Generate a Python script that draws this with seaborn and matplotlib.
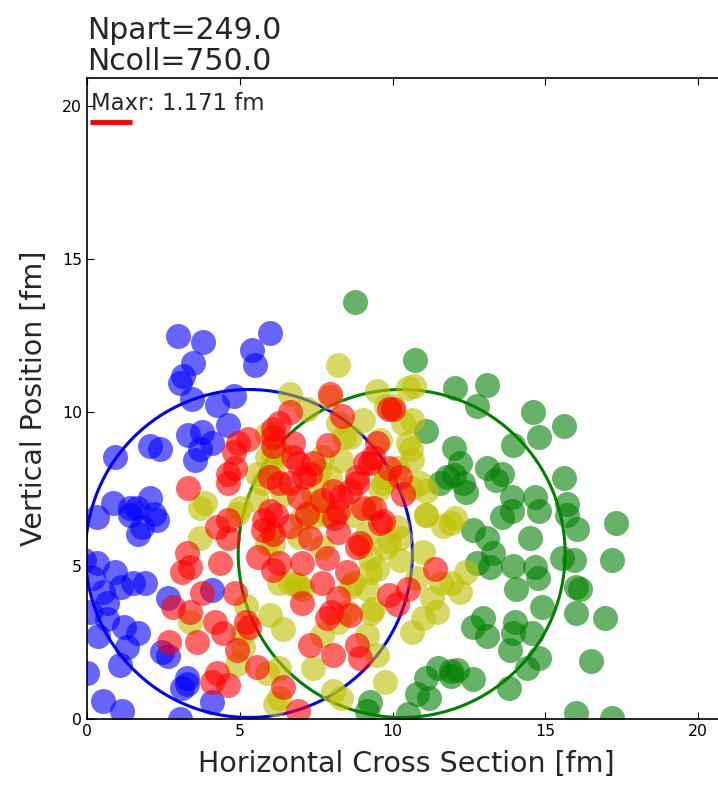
import numpy as np
import pandas as pd
import matplotlib
matplotlib.use("Agg")
import matplotlib.pyplot as plt
import seaborn as sns

# ---------------- data (fm) ----------------
blue_x = [2.98, 3.8, 6.0, 5.4, 5.5, 3.47, 3.15, 3.05, 3.44, 4.25, 4.8, 4.6, 3.3, 3.75, 4.1,
          3.55, 3.7, 2.06, 2.4, 0.92, 0.85, 2.06, 1.64, 0.33, 1.4, 1.8, 2.3, 1.67, 1.4, 0.33,
          0.2, 0.92, 0.52, 0.65, 1.5, 1.9, 2.65, 0.65, 1.2, 0.36, 1.67, 1.08, 1.3, 2.45, 2.65,
          3.27, 3.27, 3.1, 4.1, 4.1, 0.52, 1.15, 3.05, 0.0, -0.1, 0.1, 1.1, 2.2]
blue_y = [12.5, 12.3, 12.6, 12.05, 11.55, 11.6, 11.2, 10.95, 10.45, 10.25, 10.55, 9.6, 9.25, 9.35, 9.0,
          8.45, 8.8, 8.9, 8.8, 8.55, 7.05, 7.2, 6.9, 6.6, 6.65, 6.25, 6.5, 6.05, 6.9, 5.1,
          4.6, 4.8, 4.15, 3.8, 4.45, 4.45, 3.95, 3.25, 3.0, 2.7, 2.8, 1.75, 2.35, 2.2, 2.05,
          1.35, 1.15, 1.0, 4.2, 0.55, 0.6, 0.25, 0.0, 1.5, 5.2, 3.5, 4.3, 6.7]

green_x = [12.05, 13.1, 12.75, 14.6, 15.6, 14.8, 13.95, 12.0, 12.2, 13.1, 13.6, 13.4, 12.0, 12.3,
           12.4, 15.6, 13.9, 14.65, 15.7, 11.1, 10.75, 8.77, 11.55, 11.8,
           13.6, 13.9, 14.8, 15.7, 16.05, 17.3, 12.65, 13.1, 13.3, 14.5, 15.55, 15.95, 17.2,
           12.75, 13.2, 13.95, 14.65, 14.75, 14.05, 16.0, 16.15, 14.9, 16.0, 16.95, 12.95,
           12.65, 13.1, 14.0, 13.95, 14.55, 13.85, 14.8, 16.5, 14.4, 12.1, 11.9, 12.65, 13.8,
           16.0, 17.2, 11.5, 11.1, 11.9, 10.8, 11.2, 9.25, 9.15, 10.5]
green_y = [10.8, 10.9, 10.2, 10.0, 9.55, 9.2, 8.95, 8.85, 8.35, 8.2, 8.0, 7.8, 7.95, 7.7,
           7.4, 7.85, 7.25, 7.25, 7.0, 9.4, 11.7, 13.6, 7.7, 7.9,
           6.6, 6.8, 6.8, 6.65, 6.2, 6.4, 6.15, 5.9, 5.4, 5.9, 5.25, 5.2, 5.2,
           5.1, 4.95, 5.0, 4.95, 4.6, 4.25, 4.3, 4.25, 3.65, 3.45, 3.3, 3.3,
           3.0, 2.7, 3.15, 2.8, 2.8, 2.25, 2.0, 1.9, 1.65, 1.6, 1.4, 1.3, 1.0,
           0.2, 0.03, 1.65, 1.35, 1.55, 0.8, 0.7, 0.55, 0.25, 0.15]

red_x = [3.3, 4.95, 5.27, 4.8, 4.85, 4.6, 4.6, 6.1, 6.3,
         3.27, 3.37, 3.1, 4.35, 4.25, 4.6, 4.6, 3.75, 2.8, 3.37, 4.2, 3.6, 2.7, 4.45, 4.25,
         4.6, 5.3, 5.8, 6.0, 6.1, 5.55, 4.9, 4.85, 5.2,
         7.95, 9.9, 8.35, 6.65, 6.1, 6.75, 6.1, 6.75, 7.9, 7.4, 7.1, 9.1, 9.35, 8.85, 9.9,
         10.25, 8.05, 8.6, 6.65, 6.0, 6.95, 10.35,
         6.2, 6.65, 8.1, 9.7, 8.2, 7.3, 8.85, 7.85, 6.3, 6.1, 7.05, 8.5, 7.7, 7.05, 8.2, 8.6,
         9.9, 10.15, 8.0, 7.85, 7.3, 8.05, 8.95, 8.85, 6.4, 6.9, 11.4, 10.5, 4.1, 5.6, 9.4,
         6.9, 7.3, 6.3, 7.2, 7.7, 5.75, 8.2, 10.0, 9.5, 9.25, 8.85, 8.3, 9.6, 9.05, 8.95]
red_y = [7.55, 9.0, 9.15, 8.7, 8.2, 8.0, 7.7, 9.2, 9.65,
         5.4, 4.95, 4.8, 5.1, 6.25, 5.9, 6.5, 4.1, 3.65, 3.5, 3.15, 2.5, 2.5, 2.8, 1.5,
         1.1, 3.0, 6.5, 6.8, 6.05, 1.7, 2.25, 4.1, 3.15,
         10.6, 10.1, 9.9, 10.0, 9.45, 9.0, 8.9, 8.55, 8.95, 8.35, 7.9, 8.35, 8.55, 7.9, 8.2,
         7.9, 7.45, 7.45, 7.7, 7.9, 7.25, 7.35,
         6.65, 6.3, 6.55, 6.45, 6.1, 5.9, 5.6, 5.25, 5.1, 4.85, 5.1, 4.8, 4.45, 3.8, 3.95, 3.4,
         4.05, 3.75, 3.5, 3.3, 2.4, 2.1, 2.0, 2.4, 1.05, 0.25, 4.9, 4.25, 1.2, 5.3, 6.9,
         8.35, 8.0, 7.7, 6.7, 7.15, 6.15, 6.8, 10.1, 9.0, 8.35, 7.7, 7.25, 6.4, 6.9, 5.75]

yellow_x = [3.85, 5.9, 5.9, 6.1, 3.7, 3.7, 3.37, 4.9, 5.2, 5.1, 5.1, 6.15, 5.9, 5.0,
            8.2, 6.65, 7.95, 9.5, 10.5, 10.7, 9.8, 10.0, 10.35, 10.65, 8.2, 8.6, 7.2, 7.7,
            8.3, 9.6, 10.6, 10.65, 9.8, 9.6, 10.6, 11.1, 7.6, 6.1, 7.4, 6.4,
            6.4, 7.4, 7.7, 8.2, 9.15, 9.5, 9.75, 6.3, 6.3, 8.05, 8.3, 10.65, 11.0, 10.8, 11.3,
            11.45, 11.0, 6.0, 6.95, 8.7, 9.25, 9.35, 9.0, 9.9, 10.25, 7.4, 6.85, 6.3, 11.65,
            11.9, 11.1, 11.6, 12.05, 12.4, 12.2, 11.9,
            7.05, 7.85, 8.7, 9.25, 10.25, 9.8, 9.25, 6.1, 6.65, 7.05, 9.15, 8.6, 9.5, 8.5, 9.3,
            6.3, 5.55, 5.75, 5.55, 7.95, 7.5, 7.95, 6.0, 6.95, 5.9, 7.7, 4.9,
            9.05, 10.5, 10.9, 11.1, 9.7, 10.15, 8.4, 9.15, 10.15]
yellow_y = [7.05, 9.3, 8.55, 8.2, 5.9, 6.9, 3.15, 1.8, 3.7, 2.8, 2.35, 0.5, 1.5, 6.9,
            11.55, 10.6, 10.5, 10.7, 10.8, 10.85, 10.2, 10.2, 9.65, 9.75, 9.65, 9.2, 10.1, 8.55,
            8.45, 9.1, 8.8, 8.45, 7.9, 7.55, 7.55, 7.45, 8.1, 8.55, 7.35, 7.35,
            2.95, 1.65, 2.75, 3.15, 2.75, 2.1, 1.2, 1.65, 0.7, 0.9, 0.7, 2.85, 5.45, 4.6, 3.95,
            3.5, 3.3, 3.4, 4.35, 4.45, 4.8, 3.6, 5.65, 5.8, 5.2, 6.6, 4.4, 4.45, 6.3,
            6.4, 6.65, 4.45, 6.55, 4.8, 4.15, 4.45,
            6.55, 6.65, 6.65, 6.9, 5.9, 5.6, 5.25, 5.7, 4.45, 4.25, 4.25, 4.3, 4.9, 3.5, 3.45,
            8.7, 8.0, 7.7, 7.15, 7.9, 7.05, 6.7, 6.15, 5.95, 5.75, 5.6, 6.7,
            9.75, 9.0, 7.7, 6.65, 7.7, 8.2, 9.2, 6.05, 6.25]

circle_cx = [5.3, 10.3]
circle_cy = [5.4, 5.4]
circle_r = [5.35, 5.35]
circle_colors = ["b", "g"]

title_text = "Npart=249.0\nNcoll=750.0"
maxr_label = "Maxr: 1.171 fm"
maxr_line_x = [0.1, 1.47]
maxr_line_y = [19.48, 19.48]
tick_vals = [0, 5, 10, 15, 20]

# ---------------- plot ----------------
sns.set_style("ticks", {"xtick.direction": "in", "ytick.direction": "in"})
plt.rcParams["font.family"] = ["DejaVu Sans"]

fig = plt.figure(figsize=(7.18, 7.88), dpi=100)
ax = fig.add_axes([87 / 718, 69 / 788, 638.5 / 718, 640.6 / 788])

for cx, cy, r, c in zip(circle_cx, circle_cy, circle_r, circle_colors):
    ax.add_patch(plt.Circle((cx, cy), r, fill=False, color=c, lw=2.2, zorder=1))

groups = [("blue", blue_x, blue_y, "b"), ("green", green_x, green_y, "g"),
          ("yellow", yellow_x, yellow_y, "y"), ("red", red_x, red_y, "r")]
for name, xs, ys, col in groups:
    df = pd.DataFrame({"x": xs, "y": ys})
    sns.scatterplot(data=df, x="x", y="y", color=col, alpha=0.6, s=324,
                    linewidth=0, ax=ax, zorder=2)

ax.plot(maxr_line_x, maxr_line_y, color="r", lw=3.5, zorder=3, solid_capstyle="butt")
ax.text(0.12, 19.87, maxr_label, fontsize=16.4, va="baseline", ha="left")

ax.set_xlim(0, 20.9)
ax.set_ylim(0, 20.9)
ax.set_xticks(tick_vals)
ax.set_yticks(tick_vals)
ax.tick_params(top=True, right=True, labelsize=11.3, length=5, width=0.8, colors="black")
for sp in ax.spines.values():
    sp.set_color("black")
    sp.set_linewidth(1.2)

ax.set_xlabel("Horizontal Cross Section [fm]", fontsize=20.5, labelpad=8)
ax.set_ylabel("Vertical Position [fm]", fontsize=20.5, labelpad=10)
ax.set_title(title_text, loc="left", fontsize=21.5, pad=6, linespacing=1.1)

fig.savefig("out.png", dpi=100)
